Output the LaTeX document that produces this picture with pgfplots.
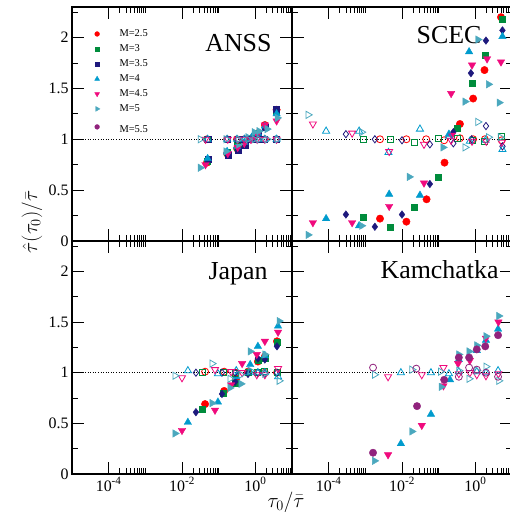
\documentclass[border=0pt]{standalone}
\usepackage{pgfplots}
\pgfplotsset{compat=1.18}
\usepackage{fontspec}
\setmainfont{Liberation Serif}

\definecolor{cA}{RGB}{255,0,0}
\definecolor{cB}{RGB}{0,140,60}
\definecolor{cC}{RGB}{30,25,125}
\definecolor{cD}{RGB}{0,155,205}
\definecolor{cE}{RGB}{240,10,125}
\definecolor{cF}{RGB}{75,168,190}
\definecolor{cG}{RGB}{145,35,125}

\pgfplotsset{
  panel/.style={
    scale only axis, width=220bp,
    xmin=-5, xmax=1, ymin=0, ymax=2.3,
    xtick={-4,-2,0},
    minor xtick={-3.699,-3.523,-3.398,-3.301,-3.222,-3.155,-3.097,-3.046,-3,
                 -1.699,-1.523,-1.398,-1.301,-1.222,-1.155,-1.097,-1.046,-1,
                 0.301,0.477,0.602,0.699,0.778,0.845,0.903,0.954},
    ytick={0,0.5,1,1.5,2},
    minor ytick={0.25,0.75,1.25,1.75,2.25},
    xticklabels={}, yticklabels={},
    tick align=inside,
    major tick length=12bp, minor tick length=6bp,
    axis line style={line width=1.1bp},
    every tick/.append style={black, line width=0.9bp},
    tick label style={font=\fontsize{16}{18}\selectfont},
  },
  fA/.style={only marks, mark=*, color=cA, mark size=3.7bp},
  oA/.style={only marks, mark=o, color=cA, mark size=3.5bp, mark options={line width=0.8bp}},
  fB/.style={only marks, mark=square*, color=cB, mark size=3bp},
  oB/.style={only marks, mark=square, color=cB, mark size=3bp, mark options={line width=0.8bp}},
  fCs/.style={only marks, mark=square*, color=cC, mark size=3bp},
  oCs/.style={only marks, mark=square, color=cC, mark size=3bp, mark options={line width=0.8bp}},
  fC/.style={only marks, mark=diamond*, color=cC, mark size=3.8bp},
  oC/.style={only marks, mark=diamond, color=cC, mark size=3.6bp, mark options={line width=0.8bp}},
  fD/.style={only marks, mark=triangle*, color=cD, mark size=4.3bp},
  oD/.style={only marks, mark=triangle, color=cD, mark size=4.1bp, mark options={line width=0.8bp}},
  fE/.style={only marks, mark=triangle*, color=cE, mark size=4.3bp, mark options={rotate=180}},
  oE/.style={only marks, mark=triangle, color=cE, mark size=4.1bp, mark options={rotate=180, line width=0.8bp}},
  fF/.style={only marks, mark=triangle*, color=cF, mark size=4.3bp, mark options={rotate=-90}},
  oF/.style={only marks, mark=triangle, color=cF, mark size=4.1bp, mark options={rotate=-90, line width=0.8bp}},
  fG/.style={only marks, mark=*, color=cG, mark size=3.7bp},
  oG/.style={only marks, mark=o, color=cG, mark size=3.5bp, mark options={line width=0.8bp}},
  legmark/.style={
    legend image code/.code={\path[draw=none, fill=none] (-0.15cm,0cm) rectangle (0.72cm,0.01cm);\draw[##1] plot coordinates {(0cm,0cm)};}},
  refline/.style={black, dotted, line width=0.6bp, forget plot},
}

\begin{document}
\begin{tikzpicture}
\useasboundingbox (0,0) rectangle (510bp,512bp);

% ---------------- ANSS (top left) ----------------
\begin{axis}[panel, height=234bp, at={(72bp,271bp)}, anchor=south west,
  yticklabels={0,0.5,1,1.5,2},
  legend style={at={(rel axis cs:0.094,0.912)}, anchor=north west, draw=none, fill=none,
    font=\fontsize{10.5}{12}\selectfont, row sep=2.6bp, inner sep=0pt},
  legend cell align=left]
\addlegendimage{only marks, mark=*, color=cA, mark size=2.4bp, legmark}\addlegendentry{M=2.5}
\addlegendimage{only marks, mark=square*, color=cB, mark size=2.1bp, legmark}\addlegendentry{M=3}
\addlegendimage{only marks, mark=square*, color=cC, mark size=2.1bp, legmark}\addlegendentry{M=3.5}
\addlegendimage{only marks, mark=triangle*, color=cD, mark size=2.8bp, legmark}\addlegendentry{M=4}
\addlegendimage{only marks, mark=triangle*, color=cE, mark size=2.8bp, mark options={rotate=180}, legmark}\addlegendentry{M=4.5}
\addlegendimage{only marks, mark=triangle*, color=cF, mark size=2.8bp, mark options={rotate=-90}, legmark}\addlegendentry{M=5}
\addlegendimage{only marks, mark=*, color=cG, mark size=2.4bp, legmark}\addlegendentry{\rule{0pt}{13bp}M=5.5}
\addplot[refline] coordinates {(-5,1) (1,1)};
\addplot[fA, forget plot] coordinates {(-1.32,0.77) (-0.77,0.86) (-0.5,0.91) (-0.3,0.95) (-0.1,1.01) (0.07,1.06) (0.26,1.14) (0.58,1.29)};
\addplot[fB, forget plot] coordinates {(-1.32,0.78) (-0.77,0.87) (-0.5,0.92) (-0.3,0.96) (-0.1,1.01) (0.07,1.06) (0.26,1.12) (0.58,1.28)};
\addplot[fCs, forget plot] coordinates {(-1.28,0.80) (-0.75,0.84) (-0.47,0.89) (-0.28,0.94) (-0.1,1.0) (0.07,1.05) (0.26,1.12) (0.58,1.30)};
\addplot[fD, forget plot] coordinates {(-1.3,0.81) (-0.77,0.88) (-0.5,0.93) (-0.3,0.97) (-0.1,1.02) (0.07,1.06) (0.26,1.13) (0.58,1.25)};
\addplot[fE, forget plot] coordinates {(-1.36,0.75) (-0.75,0.86) (-0.48,0.92) (-0.3,0.96) (-0.12,1.0) (0.05,1.05) (0.26,1.14) (0.58,1.18)};
\addplot[fF, forget plot] coordinates {(-1.5,0.72) (-0.8,0.88) (-0.45,0.95) (-0.2,1.02) (-0.03,1.07) (0.1,1.08) (0.32,1.10) (0.6,1.21)};
\addplot[oA, forget plot] coordinates {(-1.32,1.0) (-0.77,1.0) (-0.5,1.0) (-0.3,1.0) (-0.1,1.0) (0.07,1.0) (0.26,1.0) (0.58,1.0)};
\addplot[oB, forget plot] coordinates {(-1.32,1.0) (-0.77,1.0) (-0.5,0.99) (-0.3,1.0) (-0.1,1.0) (0.07,1.0) (0.26,1.0) (0.58,1.0)};
\addplot[oCs, forget plot] coordinates {(-1.28,1.0) (-0.75,1.0) (-0.47,1.0) (-0.28,1.0) (-0.1,1.0) (0.07,1.0) (0.26,1.0) (0.58,1.0)};
\addplot[oD, forget plot] coordinates {(-1.3,1.0) (-0.77,1.0) (-0.5,1.0) (-0.3,1.0) (-0.1,1.0) (0.07,1.0) (0.26,1.0) (0.58,1.0)};
\addplot[oE, forget plot] coordinates {(-1.36,1.0) (-0.75,1.0) (-0.48,1.0) (-0.3,1.0) (-0.12,1.0) (0.05,1.0) (0.26,1.0) (0.58,1.0)};
\addplot[oF, forget plot] coordinates {(-1.5,1.0) (-0.8,1.0) (-0.45,1.0) (-0.2,1.0) (-0.03,1.0) (0.1,1.0) (0.32,1.0) (0.6,1.0)};
\node[anchor=base east, font=\fontsize{26}{28}\selectfont] at (rel axis cs:0.923,0.808) {ANSS};
\end{axis}

% ---------------- SCEC (top right) ----------------
\begin{axis}[panel, height=234bp, at={(292bp,271bp)}, anchor=south west]
\addplot[refline] coordinates {(-5,1) (1,1)};
\node[anchor=base east, font=\fontsize{26}{28}\selectfont] at (rel axis cs:0.877,0.846) {SCEC};
\addplot[fA] coordinates {(-2.6,0.22) (-1.88,0.19) (-1.33,0.41) (-0.84,0.77) (-0.42,1.15) (-0.06,1.40) (0.25,1.68) (0.7,2.20)};
\addplot[fB] coordinates {(-3.06,0.23) (-2.33,0.14) (-1.67,0.33) (-1.02,0.63) (-0.5,1.11) (-0.09,1.55) (0.26,1.83) (0.72,2.18)};
\addplot[fC] coordinates {(-3.53,0.26) (-2.74,0.14) (-2.0,0.26) (-1.24,0.56) (-0.6,1.07) (-0.12,1.65) (0.29,1.97) (0.74,2.07)};
\addplot[fD] coordinates {(-4.07,0.22) (-3.17,0.15) (-2.35,0.46) (-1.51,0.45) (-0.72,1.05) (-0.17,1.86) (0.74,2.01)};
\addplot[fE] coordinates {(-4.43,0.18) (-3.36,0.18) (-2.35,0.34) (-1.4,0.57) (-0.66,1.45) (-0.64,1.04) (-0.09,1.73) (0.32,1.79) (0.7,1.76)};
\addplot[fF] coordinates {(-4.56,0.06) (-3.1,0.15) (-1.8,0.63) (-0.88,0.92) (-0.28,1.37) (0.07,1.98) (0.36,1.54) (0.65,1.36)};
\addplot[oA] coordinates {(-2.6,1.0) (-1.88,1.0) (-1.34,1.0) (-0.85,0.99) (-0.42,1.01) (-0.06,1.0) (0.26,1.0) (0.72,0.99)};
\addplot[oB] coordinates {(-3.06,1.0) (-2.33,1.0) (-1.67,0.97) (-1.02,1.01) (-0.48,1.01) (-0.09,0.99) (0.26,0.98) (0.72,1.03)};
\addplot[oC] coordinates {(-3.53,1.05) (-2.74,1.0) (-2.0,0.99) (-1.24,0.95) (-0.6,0.96) (-0.1,1.0) (0.29,1.13) (0.74,0.93)};
\addplot[oD] coordinates {(-4.07,1.08) (-3.17,1.08) (-2.37,0.87) (-1.51,1.10) (-0.72,1.03) (-0.15,0.98) (0.28,0.99) (0.74,0.90)};
\addplot[oE] coordinates {(-4.43,1.15) (-3.36,1.06) (-2.35,0.88) (-1.4,0.95) (-0.66,0.99) (-0.09,0.98) (0.3,0.98) (0.72,0.97)};
\addplot[oF] coordinates {(-4.56,1.24) (-3.1,1.07) (-0.28,0.92) (0.07,1.17) (0.36,1.02) (0.68,1.02)};
\end{axis}

% ---------------- Japan (bottom left) ----------------
\begin{axis}[panel, height=233bp, at={(72bp,38bp)}, anchor=south west,
  yticklabels={0,0.5,1,1.5,2},
  xticklabels={10\textsuperscript{-4},10\textsuperscript{-2},10\textsuperscript{0}}]
\addplot[refline] coordinates {(-5,1) (1,1)};
\node[anchor=base east, font=\fontsize{26}{28}\selectfont] at (rel axis cs:0.905,0.833) {Japan};
\addplot[fA] coordinates {(-1.37,0.69) (-0.85,0.82) (-0.53,0.93) (-0.2,1.01) (0.07,1.11) (0.26,1.16) (0.59,1.31)};
\addplot[fB] coordinates {(-1.45,0.64) (-0.87,0.80) (-0.55,0.90) (-0.2,1.0) (0.07,1.12) (0.26,1.14) (0.59,1.30)};
\addplot[fC] coordinates {(-1.62,0.61) (-0.91,0.79) (-0.55,0.91) (-0.2,0.99) (0.07,1.14) (0.26,1.13) (0.59,1.26)};
\addplot[fD] coordinates {(-1.84,0.51) (-1.02,0.71) (-0.52,0.96) (-0.14,1.08) (0.07,1.26) (0.26,1.17) (0.62,1.46)};
\addplot[fE] coordinates {(-2.0,0.43) (-1.1,0.63) (-0.66,0.88) (-0.36,1.09) (0.04,1.18) (0.26,1.31) (0.62,1.40)};
\addplot[fF] coordinates {(-2.19,0.40) (-1.18,0.70) (-0.69,0.85) (-0.39,0.89) (-0.14,1.21) (0.26,1.18) (0.65,1.51)};
\addplot[oA] coordinates {(-1.37,1.01) (-0.85,1.01) (-0.53,1.0) (-0.2,1.0) (0.07,1.0) (0.26,1.0) (0.59,1.0)};
\addplot[oB] coordinates {(-1.45,1.0) (-0.87,1.0) (-0.55,0.99) (-0.2,1.0) (0.07,1.0) (0.26,1.01) (0.59,1.0)};
\addplot[oC] coordinates {(-1.62,1.0) (-0.91,1.0) (-0.55,1.0) (-0.2,0.99) (0.07,1.0) (0.26,0.99) (0.59,1.0)};
\addplot[oD] coordinates {(-1.84,1.02) (-1.02,0.99) (-0.52,1.02) (-0.14,1.0) (0.07,1.0) (0.26,1.0) (0.62,0.96)};
\addplot[oE] coordinates {(-2.0,0.95) (-1.1,1.03) (-0.66,1.01) (-0.36,1.0) (0.04,0.98) (0.26,0.98) (0.62,1.04)};
\addplot[oF] coordinates {(-2.19,0.97) (-1.18,1.09) (-0.69,0.94) (-0.39,0.98) (-0.14,1.02) (0.26,0.99) (0.65,0.92)};
\end{axis}

% ---------------- Kamchatka (bottom right) ----------------
\begin{axis}[panel, height=233bp, at={(292bp,38bp)}, anchor=south west,
  xticklabels={10\textsuperscript{-4},10\textsuperscript{-2},10\textsuperscript{0}}]
\addplot[refline] coordinates {(-5,1) (1,1)};
\node[anchor=base east, font=\fontsize{26}{28}\selectfont] at (rel axis cs:0.955,0.841) {Kamchatka};
\addplot[fD] coordinates {(-2.03,0.30) (-1.21,0.59) (-0.69,0.93) (-0.45,1.13) (0.04,1.22) (0.29,1.32) (0.62,1.43)};
\addplot[fE] coordinates {(-2.38,0.19) (-1.46,0.48) (-0.87,0.87) (-0.47,1.09) (-0.15,1.12) (0.29,1.34) (0.63,1.50)};
\addplot[fF] coordinates {(-2.75,0.13) (-1.73,0.42) (-0.93,0.86) (-0.45,1.18) (-0.17,1.21) (0.04,1.27) (0.29,1.36) (0.64,1.56)};
\addplot[fG] coordinates {(-2.79,0.21) (-1.59,0.67) (-0.85,0.93) (-0.45,1.15) (-0.17,1.15) (0.04,1.23) (0.27,1.26) (0.62,1.37)};
\addplot[oD] coordinates {(-2.03,1.0) (-1.21,1.0) (-0.72,0.99) (-0.45,1.01) (0.04,1.01) (0.29,1.0) (0.62,1.02)};
\addplot[oE] coordinates {(-2.38,0.96) (-1.46,0.98) (-0.87,1.05) (-0.45,0.99) (-0.15,1.0) (0.04,0.98) (0.29,0.97) (0.63,0.99)};
\addplot[oF] coordinates {(-2.75,0.98) (-1.73,1.03) (-0.95,1.01) (-0.45,1.02) (-0.17,0.94) (0.04,1.02) (0.29,1.06) (0.64,0.92)};
\addplot[oG] coordinates {(-2.79,1.05) (-1.61,1.04) (-0.45,0.96) (-0.17,1.05) (0.04,1.03) (0.29,1.0) (0.62,0.96)};
\end{axis}

\node[rotate=90, font=\fontsize{21}{24}\selectfont] at (32bp,290bp) {$\hat{\tau}(\tau_0)/\bar{\tau}$};
\node[anchor=base, font=\fontsize{20}{22}\selectfont, inner sep=0pt] at (286bp,5bp) {$\tau_0/\bar{\tau}$};
\end{tikzpicture}
\end{document}
